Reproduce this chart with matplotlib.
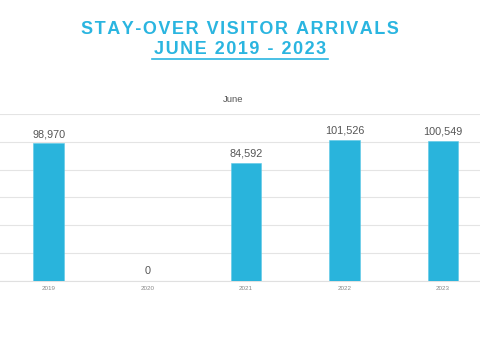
import matplotlib
matplotlib.use("Agg")
import matplotlib.pyplot as plt
from matplotlib.ticker import FixedLocator

years = ["2019", "2020", "2021", "2022", "2023"]
arrivals = [98970, 0, 84592, 101526, 100549]
value_labels = ["98,970", "0", "84,592", "101,526", "100,549"]
title_line1 = "STAY-OVER VISITOR ARRIVALS"
title_line2 = "JUNE 2019 - 2023"
subtitle = "June"

BLUE = "#29b4dc"
TITLE_BLUE = "#2ab5e0"

plt.rcParams['font.family'] = ['Liberation Sans', 'DejaVu Sans']

W, H = 480, 360
fig = plt.figure(figsize=(4.8, 3.6), dpi=100)

def spaced(s):
    return "\u200a".join(s)

# Axes: x from 0 to 480 px, y from 280.5 (0) to 114 (120000)
ax = fig.add_axes([0, (H - 280.5) / H, 1.0, (280.5 - 114) / H])
x = list(range(len(years)))
ax.bar(x, arrivals, width=0.31, color=BLUE, edgecolor="#5cc8e6", linewidth=0.4, zorder=3)
ax.set_xlim(-0.494, 4.374)
ax.set_ylim(0, 120000)
ax.yaxis.set_major_locator(FixedLocator([0, 20000, 40000, 60000, 80000, 100000, 120000]))
ax.grid(axis="y", color="#e4e4e4", linewidth=0.8, zorder=0)
ax.set_yticklabels([])
ax.tick_params(axis="y", length=0)
ax.tick_params(axis="x", length=0, labelsize=4.5, labelcolor="#888888", pad=4)
ax.set_xticks(x)
ax.set_xticklabels(years)
for s in ["top", "right", "left"]:
    ax.spines[s].set_visible(False)
ax.spines["bottom"].set_color("#e0e0e0")
ax.spines["bottom"].set_linewidth(0.8)

for xi, v, lab in zip(x, arrivals, value_labels):
    ax.annotate(lab, (xi, v), xytext=(0, 3), textcoords="offset points",
                ha="center", va="bottom", fontsize=7.8, color="#555555", zorder=4)

fig.text(0.5, 1 - 29 / H, spaced(title_line1), ha="center", va="center",
         fontsize=13, fontweight="bold", color=TITLE_BLUE)
t2 = fig.text(0.5, 1 - 50 / H, spaced(title_line2), ha="center", va="center",
              fontsize=13, fontweight="bold", color=TITLE_BLUE)
# underline below line 2
fig.add_artist(plt.Line2D([152 / W, 328 / W], [1 - 59 / H, 1 - 59 / H],
                          color=TITLE_BLUE, linewidth=1.2))

fig.text(233.5 / W, 1 - 100 / H, subtitle, ha="center", va="center",
         fontsize=6.8, color="#555555")

fig.savefig("out.png", dpi=100)
